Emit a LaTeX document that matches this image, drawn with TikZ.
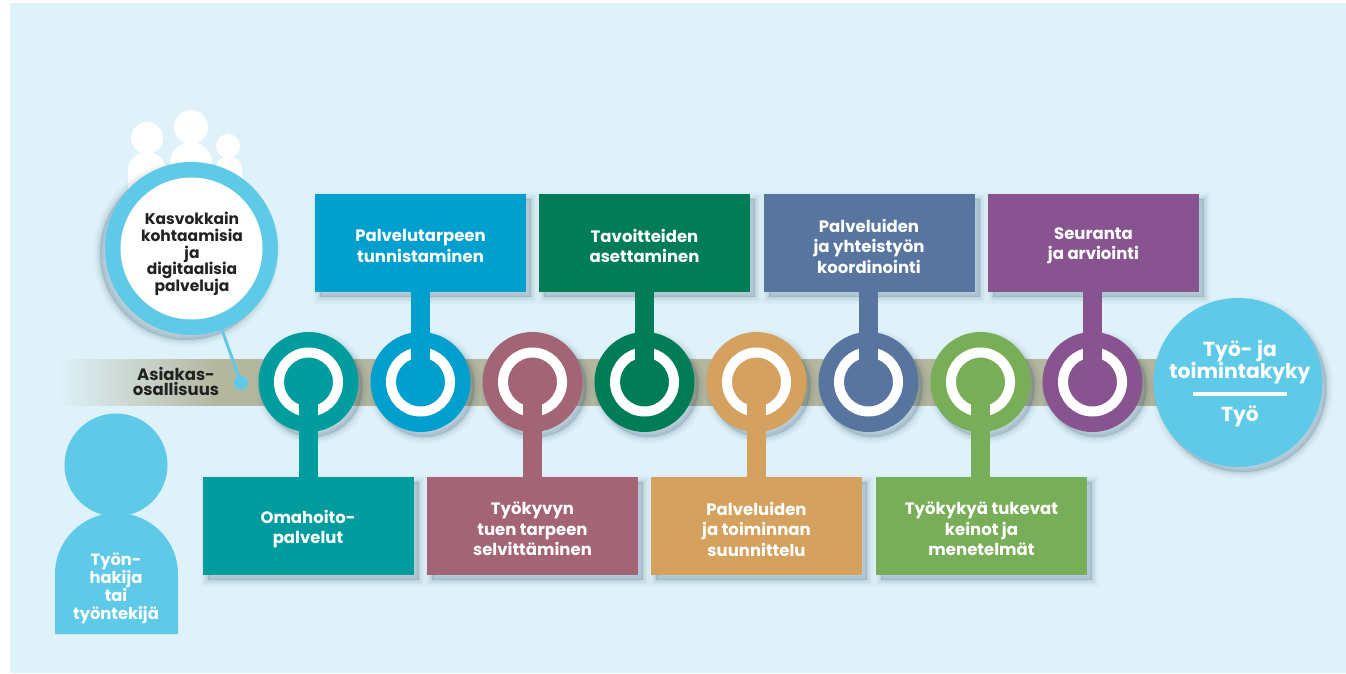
\documentclass[tikz,border=0pt]{standalone}
\usepackage{fontspec}
\setmainfont{Poppins}
\usetikzlibrary{shadows}
\definecolor{bgc}{HTML}{DFF2FA}
\definecolor{bandc}{HTML}{B4B79F}
\definecolor{skyc}{HTML}{5FCAE7}
\definecolor{shc}{HTML}{24465F}
\definecolor{inkc}{HTML}{222222}
\definecolor{ctealc}{HTML}{009C9E}
\definecolor{cbluec}{HTML}{009FCE}
\definecolor{cmauvc}{HTML}{A36476}
\definecolor{cgrenc}{HTML}{007C56}
\definecolor{ctanc}{HTML}{D4A15F}
\definecolor{cslatc}{HTML}{5875A0}
\definecolor{climec}{HTML}{79AE58}
\definecolor{cpurpc}{HTML}{87548F}
\tikzset{
  softshadow/.style={
    general shadow={shadow xshift=#1,shadow yshift=-5pt,draw=shc,fill=shc,line width=14pt,opacity=.018},
    general shadow={shadow xshift=#1,shadow yshift=-5pt,draw=shc,fill=shc,line width=11pt,opacity=.025},
    general shadow={shadow xshift=#1,shadow yshift=-5pt,draw=shc,fill=shc,line width=8pt,opacity=.035},
    general shadow={shadow xshift=#1,shadow yshift=-5pt,draw=shc,fill=shc,line width=5pt,opacity=.045},
    general shadow={shadow xshift=#1,shadow yshift=-5pt,draw=shc,fill=shc,line width=2pt,opacity=.06}},
  hub/.style={circle,inner sep=0pt,outer sep=0pt,minimum size=100pt,fill=#1,softshadow=4pt},
  ringmark/.style={circle,inner sep=0pt,outer sep=0pt,minimum size=59pt,draw=white,line width=10pt},
  stem/.style={line width=19pt,draw=#1},
  card/.style={rectangle,inner sep=0pt,outer sep=0pt,minimum width=211pt,minimum height=98pt,fill=#1,softshadow=5pt},
  cardtxt/.style={text=white,align=center,inner sep=0pt,yshift=-3pt,font=\fontsize{16.5}{20.5}\selectfont\bfseries},
  whitetxt/.style={text=white,align=center,inner sep=0pt},
  darktxt/.style={text=inkc,align=center,inner sep=0pt},
}
\begin{document}
\begin{tikzpicture}[x=1pt,y=-1pt]
\useasboundingbox (0,0) rectangle (1346,674);
\fill[white] (0,0) rectangle (1346,674);
\fill[bgc] (10,3) rectangle (1346,673);
% band
\foreach \k in {0,...,39} {
  \pgfmathsetmacro{\xa}{55+\k*4}
  \pgfmathsetmacro{\xb}{59.5+\k*4}
  \pgfmathsetmacro{\pc}{2.5*\k}
  \fill[bandc!\pc!bgc] (\xa,359) rectangle (\xb,406);
}
\fill[bandc] (215,359) rectangle (1170,406);
% people
\fill[white] (147,138) circle[radius=16];
\fill[white] (191,127) circle[radius=17];
\fill[white] (228,146) circle[radius=12];
\fill[white] (128,200) -- (128,171) arc[x radius=19,y radius=19,start angle=180,end angle=360] -- (166,200) -- cycle;
\fill[white] (170,200) -- (170,163) arc[x radius=21,y radius=21,start angle=180,end angle=360] -- (212,200) -- cycle;
\fill[white] (215,200) -- (215,170) arc[x radius=13.5,y radius=14,start angle=180,end angle=360] -- (242,200) -- cycle;
% big bubble
\node[circle,inner sep=0pt,outer sep=0pt,minimum size=173pt,fill=skyc,softshadow=-5pt] (bubble) at (191.5,248.5) {};
\node[circle,inner sep=0pt,outer sep=0pt,minimum size=142pt,fill=white] (bubbleIn) at (191.5,248.5) {};
\node[darktxt,font=\fontsize{15.5}{16.8}\selectfont\bfseries] (bubbleTxt) at (192,254) {Kasvokkain\\kohtaamisia\\ja\\digitaalisia\\palveluja};
\coordinate (bubbleFoot) at (222,330);
\node[circle,inner sep=0pt,outer sep=0pt,minimum size=14pt,fill=skyc] (dot) at (241,383) {};
\draw[skyc,line width=3pt] (bubbleFoot) -- (dot.center);
\node[darktxt,font=\fontsize{16.5}{15}\selectfont\bfseries] (asiakas) at (176,381) {Asiakas-\\osallisuus};
% person
\fill[skyc] (116,465) circle[radius=51.5];
\fill[skyc] (55,634) -- (55,574) arc[x radius=61.5,y radius=61,start angle=180,end angle=360] -- (178,634) -- cycle;
\node[whitetxt,font=\fontsize{16.3}{17.3}\selectfont\bfseries] (person) at (116,588) {Työn-\\hakija\\tai\\työntekijä};
% hubs
\node[hub=ctealc] (h1) at (308.5,382) {};
\node[hub=cbluec] (h2) at (420.5,382) {};
\node[hub=cmauvc] (h3) at (532.5,382) {};
\node[hub=cgrenc] (h4) at (644.5,382) {};
\node[hub=ctanc] (h5) at (756.5,382) {};
\node[hub=cslatc] (h6) at (868.5,382) {};
\node[hub=climec] (h7) at (980.5,382) {};
\node[hub=cpurpc] (h8) at (1092.5,382) {};
\foreach \i in {1,...,8} {\node[ringmark] (r\i) at (h\i) {};}
% cards
\node[card=ctealc] (b1) at (308,526) {};
\node[card=cbluec] (b2) at (420.5,243) {};
\node[card=cmauvc] (b3) at (532.5,526) {};
\node[card=cgrenc] (b4) at (644.5,243) {};
\node[card=ctanc] (b5) at (756.5,526) {};
\node[card=cslatc] (b6) at (869,243) {};
\node[card=climec] (b7) at (981.5,526) {};
\node[card=cpurpc] (b8) at (1093.5,243) {};
\node[cardtxt] (t1) at (b1) {Omahoito-\\palvelut};
\node[cardtxt] (t2) at (b2) {Palvelutarpeen\\tunnistaminen};
\node[cardtxt] (t3) at (b3) {Työkyvyn\\tuen tarpeen\\selvittäminen};
\node[cardtxt] (t4) at (b4) {Tavoitteiden\\asettaminen};
\node[cardtxt] (t5) at (b5) {Palveluiden\\ja toiminnan\\suunnittelu};
\node[cardtxt] (t6) at (b6) {Palveluiden\\ja yhteistyön\\koordinointi};
\node[cardtxt] (t7) at (b7) {Työkykyä tukevat\\keinot ja\\menetelmät};
\node[cardtxt] (t8) at (b8) {Seuranta\\ja arviointi};
% stems
\draw[stem=ctealc] (h1.center) -- (h1.center |- b1.north);
\draw[stem=cbluec] (h2.center) -- (h2.center |- b2.south);
\draw[stem=cmauvc] (h3.center) -- (h3.center |- b3.north);
\draw[stem=cgrenc] (h4.center) -- (h4.center |- b4.south);
\draw[stem=ctanc] (h5.center) -- (h5.center |- b5.north);
\draw[stem=cslatc] (h6.center) -- (h6.center |- b6.south);
\draw[stem=climec] (h7.center) -- (h7.center |- b7.north);
\draw[stem=cpurpc] (h8.center) -- (h8.center |- b8.south);
% goal
\node[circle,inner sep=0pt,outer sep=0pt,minimum size=169pt,fill=skyc,softshadow=4pt] (goal) at (1238,382.5) {};
\node[whitetxt,font=\fontsize{20.3}{22}\selectfont\bfseries] (goalTop) at (1240,362.5) {Työ- ja\\toimintakyky};
\coordinate (ruleL) at (1193,394);
\coordinate (ruleR) at (1287,394);
\draw[white,line width=4pt] (ruleL) -- (ruleR);
\node[whitetxt,font=\fontsize{20.3}{22}\selectfont\bfseries] (goalBot) at (1240,416) {Työ};
\end{tikzpicture}
\end{document}
